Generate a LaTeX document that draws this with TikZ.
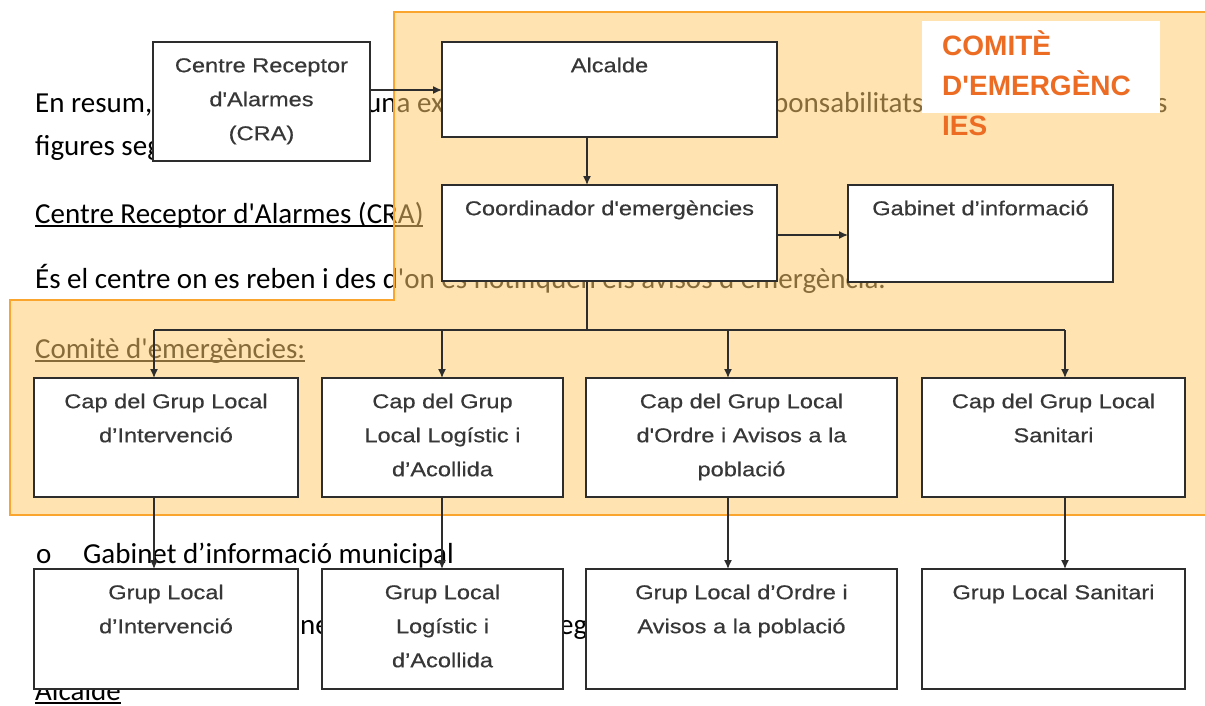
\documentclass[tikz,border=0pt]{standalone}
\usepackage{fontspec}
\setmainfont{Carlito}[Ligatures=TeXOff]
\newfontfamily\diagf{Liberation Sans}[FakeStretch=1.18,FakeBold=0.5,Ligatures=TeXOff]
\newfontfamily\comf{Liberation Sans}[Ligatures=TeXOff]
\usetikzlibrary{arrows.meta}
\definecolor{panelfill}{RGB}{255,204,110}
\definecolor{panelline}{RGB}{250,165,45}
\definecolor{boxline}{RGB}{45,45,45}
\definecolor{boxtext}{RGB}{55,55,55}
\definecolor{comcol}{RGB}{236,108,35}
\newcommand\ulx[1]{\setbox0\hbox{#1}\rlap{\rule[-3.6pt]{\wd0}{1.5pt}}\box0}
\begin{document}
\begin{tikzpicture}[x=1pt,y=-1pt,
  bg/.style={anchor=base west, inner sep=0pt, font=\fontsize{29}{35}\selectfont},
  box/.style={draw=boxline, line width=1.7pt, fill=white, anchor=north west, inner sep=0pt, outer sep=0pt},
  btxt/.style={anchor=north, inner sep=0pt, align=center, text=boxtext, font=\diagf\fontsize{20}{34}\selectfont},
  conn/.style={draw=boxline, line width=1.4pt},
  arr/.style={conn, -{Latex[length=9pt,width=8pt]}}]
\useasboundingbox (0,0) rectangle (1205,705);
% background document text
\node[bg] (t1a) at (35,112) {En resum,};
\node[bg] (t1b) at (366,112) {una ex};
\node[bg] (t1c) at (773,112) {ponsabilitats};
\node[bg] (t1d) at (1156,112) {s};
\node[bg] (t2) at (35,155) {figures seg};
\node[bg] (t3) at (35,223) {\ulx{Centre Receptor d'Alarmes (CRA)}};
\node[bg] (t4) at (35,288) {És el centre on es reben i des d'on es notifiquen els avisos d'emergència.};
\node[bg] (t5) at (35,358) {\ulx{Comitè d'emergències:}};
\node[bg] (t6a) at (36,563) {o};
\node[bg] (t6b) at (83,563) {Gabinet d’informació municipal};
\node[bg] (t7a) at (300,634) {ne};
\node[bg] (t7b) at (559,634) {eg};
\node[bg] (t8) at (35,700) {\ulx{Alcalde}};
% orange committee panel
\fill[panelfill, fill opacity=0.53] (394,12) -- (1215,12) -- (1215,515) -- (10,515) -- (10,300) -- (394,300) -- cycle;
\draw[panelline, line width=1.5pt] (1215,12) -- (394,12) -- (394,300) -- (10,300) -- (10,515) -- (1215,515);
\fill[white] (922,21) rectangle (1160,113);
\node[anchor=north west, inner sep=0pt, align=left, text=comcol, font=\comf\bfseries\fontsize{28}{40}\selectfont] (com) at (942,25) {\rule{0pt}{30pt}COMITÈ\\D'EMERGÈNC\\IES};
% boxes
\node[box, minimum width=217pt, minimum height=119pt] (cra) at (153,42) {};
\node[btxt] (crat) at (cra.north) {\rule{0pt}{30pt}Centre Receptor\\d'Alarmes\\(CRA)};
\node[box, minimum width=335pt, minimum height=95pt] (alc) at (442,42) {};
\node[btxt] (alct) at (alc.north) {\rule{0pt}{30pt}Alcalde};
\node[box, minimum width=335pt, minimum height=96pt] (coo) at (442,185) {};
\node[btxt] (coot) at (coo.north) {\rule{0pt}{30pt}Coordinador d'emergències};
\node[box, minimum width=265pt, minimum height=97pt] (gab) at (848,185) {};
\node[btxt] (gabt) at (gab.north) {\rule{0pt}{30pt}Gabinet d’informació};
% row 1
\node[box, minimum width=264pt, minimum height=119pt] (a1) at (34,378) {};
\node[btxt] (a1t) at (a1.north) {\rule{0pt}{30pt}Cap del Grup Local\\d’Intervenció};
\node[box, minimum width=241pt, minimum height=119pt] (b1) at (322,378) {};
\node[btxt] (b1t) at (b1.north) {\rule{0pt}{30pt}Cap del Grup\\Local Logístic i\\d’Acollida};
\node[box, minimum width=311pt, minimum height=119pt] (c1) at (586,378) {};
\node[btxt] (c1t) at (c1.north) {\rule{0pt}{30pt}Cap del Grup Local\\d'Ordre i Avisos a la\\població};
\node[box, minimum width=263pt, minimum height=119pt] (d1) at (922,378) {};
\node[btxt] (d1t) at (d1.north) {\rule{0pt}{30pt}Cap del Grup Local\\Sanitari};
% row 2
\node[box, minimum width=264pt, minimum height=120pt] (a2) at (34,569) {};
\node[btxt] (a2t) at (a2.north) {\rule{0pt}{30pt}Grup Local\\d’Intervenció};
\node[box, minimum width=241pt, minimum height=120pt] (b2) at (322,569) {};
\node[btxt] (b2t) at (b2.north) {\rule{0pt}{30pt}Grup Local\\Logístic i\\d’Acollida};
\node[box, minimum width=311pt, minimum height=120pt] (c2) at (586,569) {};
\node[btxt] (c2t) at (c2.north) {\rule{0pt}{30pt}Grup Local d’Ordre i\\Avisos a la població};
\node[box, minimum width=263pt, minimum height=120pt] (d2) at (922,569) {};
\node[btxt] (d2t) at (d2.north) {\rule{0pt}{30pt}Grup Local Sanitari};
% connectors
\coordinate (ycra) at (0,90);
\coordinate (ygab) at (0,235);
\coordinate (jn) at (587,330);
\coordinate (xa) at (154,330);
\coordinate (xb) at (442,330);
\coordinate (xc) at (728,330);
\coordinate (xd) at (1065,330);
\draw[arr] (cra.east |- ycra) -- (alc.west |- ycra);
\draw[arr] (alc.south -| jn) -- (coo.north -| jn);
\draw[arr] (coo.east |- ygab) -- (gab.west |- ygab);
\draw[conn] (coo.south -| jn) -- (jn);
\draw[conn] (xa) -- (xd);
\draw[arr] (xa) -- (xa |- a1.north);
\draw[arr] (xb) -- (xb |- b1.north);
\draw[arr] (xc) -- (xc |- c1.north);
\draw[arr] (xd) -- (xd |- d1.north);
\draw[arr] (a1.south -| xa) -- (a2.north -| xa);
\draw[arr] (b1.south -| xb) -- (b2.north -| xb);
\draw[arr] (c1.south -| xc) -- (c2.north -| xc);
\draw[arr] (d1.south -| xd) -- (d2.north -| xd);
\end{tikzpicture}
\end{document}
